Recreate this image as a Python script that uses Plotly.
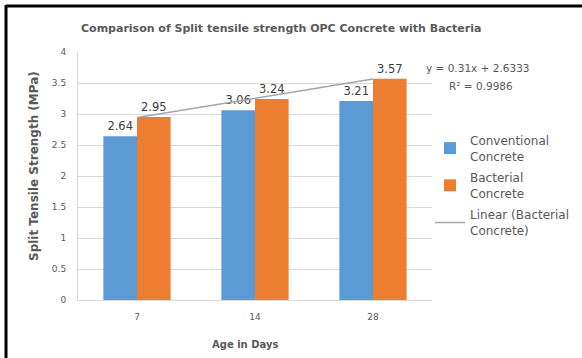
import plotly.graph_objects as go

# Data
ages = ["7", "14", "28"]
conventional = [2.64, 3.06, 3.21]
bacterial = [2.95, 3.24, 3.57]
trend_slope = 0.31
trend_intercept = 2.6333
trend_r2 = 0.9986
y_ticks = [0, 0.5, 1, 1.5, 2, 2.5, 3, 3.5, 4]

BLUE = "#5B9BD5"
ORANGE = "#ED7D31"
GRAY_LINE = "#A5A5A5"
TEXT = "#595959"
FONT = "DejaVu Sans, sans-serif"

W, H = 582, 358
L, R, T, B = 78, 150, 52, 58
PW, PH = W - L - R, H - T - B


def px(x):
    return (x - L) / PW


def py(y):
    return (H - B - y) / PH


trend = [trend_slope * (i + 1) + trend_intercept for i in range(len(ages))]

fig = go.Figure()
fig.add_trace(go.Bar(
    x=ages, y=conventional, name="Conventional<br>Concrete", legendgroup="a",
    marker=dict(color=BLUE, line=dict(width=0)),
    text=[f"{v:.2f}" for v in conventional], textposition="outside",
    textfont=dict(color="#404040", size=11.5, family=FONT), cliponaxis=False,
))
fig.add_trace(go.Bar(
    x=ages, y=bacterial, name="Bacterial<br>Concrete", legendgroup="b",
    marker=dict(color=ORANGE, line=dict(width=0)),
    text=[f"{v:.2f}" for v in bacterial], textposition="outside",
    textfont=dict(color="#404040", size=11.5, family=FONT), cliponaxis=False,
))
fig.add_trace(go.Scatter(
    x=ages, y=trend, mode="lines", name="Linear (Bacterial<br>Concrete)",
    legendgroup="c", line=dict(color=GRAY_LINE, width=1.5),
))

fig.update_layout(
    width=W, height=H,
    margin=dict(l=L, r=R, t=T, b=B, autoexpand=False),
    paper_bgcolor="white", plot_bgcolor="white",
    font=dict(family=FONT, color=TEXT, size=10),
    barmode="group", bargap=0.43, bargroupgap=0,
    showlegend=True,
    legend=dict(
        xref="container", yref="container",
        x=430 / W, y=1 - 126 / H, xanchor="left", yanchor="top",
        font=dict(size=12, color=TEXT, family=FONT),
        bgcolor="rgba(0,0,0,0)", tracegroupgap=3,
        itemwidth=30,
    ),
    xaxis=dict(
        type="category", showgrid=False, showline=True,
        linecolor="#D9D9D9", linewidth=1, ticks="",
        tickfont=dict(size=9, color=TEXT), ticklabelstandoff=8,
    ),
    yaxis=dict(
        range=[0, 4], tickvals=y_ticks,
        ticktext=[f"{v:g}" for v in y_ticks],
        showgrid=True, gridcolor="#D9D9D9", gridwidth=1,
        showline=True, linecolor="#D9D9D9", zeroline=False,
        tickfont=dict(size=9, color=TEXT), ticklabelstandoff=9,
    ),
)

annotations = [
    dict(text="<b>Comparison of Split tensile strength OPC Concrete with Bacteria</b>",
         x=px(281), y=py(28), font=dict(size=11, color=TEXT)),
    dict(text="<b>Split Tensile Strength (MPa)</b>", textangle=-90,
         x=px(34), y=py(166), font=dict(size=12, color=TEXT)),
    dict(text="<b>Age in Days</b>",
         x=px(245), y=py(344), font=dict(size=10, color=TEXT)),
    dict(text=f"y = {trend_slope}x + {trend_intercept}",
         x=px(424), y=py(68), xanchor="left", font=dict(size=10.5, color=TEXT)),
    dict(text=f"R² = {trend_r2}",
         x=px(447), y=py(86), xanchor="left", font=dict(size=10.5, color=TEXT)),
]
for a in annotations:
    a.setdefault("xanchor", "center")
    fig.add_annotation(xref="paper", yref="paper", showarrow=False,
                       yanchor="middle", font_family=FONT, **a)

# Black frame along the top and left edges
fig.add_shape(type="line", xref="paper", yref="paper",
              x0=px(6), x1=px(582), y0=py(6), y1=py(6),
              line=dict(color="black", width=3))
fig.add_shape(type="line", xref="paper", yref="paper",
              x0=px(6), x1=px(6), y0=py(5), y1=py(358),
              line=dict(color="black", width=3))

fig.write_html("out.html")
